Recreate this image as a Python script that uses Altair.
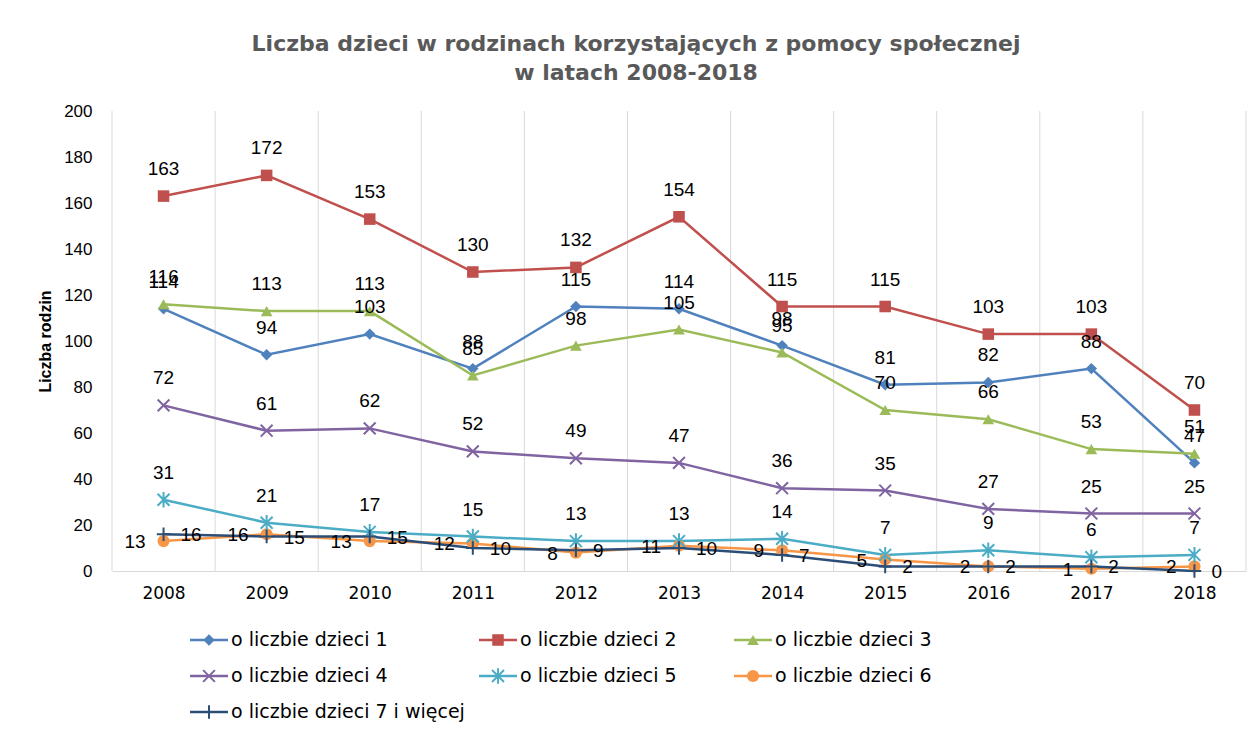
import altair as alt
import pandas as pd

# ---------------- data ----------------
years = [2008, 2009, 2010, 2011, 2012, 2013, 2014, 2015, 2016, 2017, 2018]
series_names = [
    "o liczbie dzieci 1",
    "o liczbie dzieci 2",
    "o liczbie dzieci 3",
    "o liczbie dzieci 4",
    "o liczbie dzieci 5",
    "o liczbie dzieci 6",
    "o liczbie dzieci 7 i więcej",
]
s1 = [114, 94, 103, 88, 115, 114, 98, 81, 82, 88, 47]
s2 = [163, 172, 153, 130, 132, 154, 115, 115, 103, 103, 70]
s3 = [116, 113, 113, 85, 98, 105, 95, 70, 66, 53, 51]
s4 = [72, 61, 62, 52, 49, 47, 36, 35, 27, 25, 25]
s5 = [31, 21, 17, 15, 13, 13, 14, 7, 9, 6, 7]
s6 = [13, 16, 13, 12, 8, 11, 9, 5, 2, 1, 2]
s7 = [16, 15, 15, 10, 9, 10, 7, 2, 2, 2, 0]
all_series = [s1, s2, s3, s4, s5, s6, s7]
label_side = ["above", "above", "above", "above", "above", "left", "right"]
legend_col = [0, 1, 2, 0, 1, 2, 0]
legend_row = [0, 0, 0, 1, 1, 1, 2]
y_ticks = [0, 20, 40, 60, 80, 100, 120, 140, 160, 180, 200]

# ---------------- styles ----------------
colors = ["#4F81BD", "#C0504D", "#9BBB59", "#8064A2", "#4BACC6", "#F79646", "#2C4D75"]
X_PATH = "M-1,-1L1,1M-1,1L1,-1"
STAR_PATH = "M-1,-1L1,1M-1,1L1,-1M0,-1.3L0,1.3"
PLUS_PATH = "M-1.1,0L1.1,0M0,-1.1L0,1.1"
shapes = ["diamond", "square", "triangle-up", X_PATH, STAR_PATH, "circle", PLUS_PATH]
sizes = [130, 150, 150, 110, 110, 160, 130]
filled_series = [series_names[i] for i in (0, 1, 2, 5)]
stroked_series = [series_names[i] for i in (3, 4, 6)]

LABEL_FONT = "Liberation Sans Narrow, Liberation Sans"
W, H = 1134, 460

rows = []
for name, vals, side in zip(series_names, all_series, label_side):
    for yr, v in zip(years, vals):
        rows.append({"year": yr, "value": v, "series": name, "side": side})
df = pd.DataFrame(rows)

grid_df = pd.DataFrame({"b": [years[0] - 0.5] + [y + 0.5 for y in years]})

color_scale = alt.Scale(domain=series_names, range=colors)
shape_scale = alt.Scale(domain=series_names, range=shapes)
size_scale = alt.Scale(domain=series_names, range=sizes)

x_scale = alt.Scale(domain=[years[0] - 0.5, years[-1] + 0.5], nice=False, zero=False)
y_scale = alt.Scale(domain=[0, 200], nice=False)

x_enc = alt.X(
    "year:Q",
    scale=x_scale,
    axis=alt.Axis(
        values=years, format="d", title=None, grid=False, ticks=False,
        domain=True, domainColor="#d9d9d9", domainWidth=1,
        labelFont="DejaVu Sans", labelFontSize=17, labelColor="#000000",
        labelPadding=14,
    ),
)
y_enc = alt.Y(
    "value:Q",
    scale=y_scale,
    axis=alt.Axis(
        values=y_ticks, title="Liczba rodzin", grid=False, ticks=False, domain=False,
        labelFont="Liberation Sans", labelFontSize=17, labelColor="#000000",
        labelPadding=20, titleFont="Liberation Sans", titleFontSize=16,
        titleFontWeight="bold", titleColor="#000000", titlePadding=10,
    ),
)

grid = alt.Chart(grid_df).mark_rule(color="#d9d9d9", strokeWidth=1).encode(
    x=alt.X("b:Q", scale=x_scale)
)

base = alt.Chart(df).encode(
    x=x_enc,
    y=y_enc,
    color=alt.Color("series:N", scale=color_scale, legend=None),
)

lines = base.mark_line(strokeWidth=2.5)
pts_filled = base.transform_filter(
    alt.FieldOneOfPredicate(field="series", oneOf=filled_series)
).mark_point(filled=True, opacity=1).encode(
    shape=alt.Shape("series:N", scale=shape_scale, legend=None),
    size=alt.Size("series:N", scale=size_scale, legend=None),
)
pts_stroked = base.transform_filter(
    alt.FieldOneOfPredicate(field="series", oneOf=stroked_series)
).mark_point(filled=False, opacity=1, strokeWidth=2).encode(
    shape=alt.Shape("series:N", scale=shape_scale, legend=None),
    size=alt.Size("series:N", scale=size_scale, legend=None),
)

tbase = alt.Chart(df).encode(x=alt.X("year:Q", scale=x_scale), y=alt.Y("value:Q", scale=y_scale), text="value:Q")
lab_above = tbase.transform_filter(alt.datum.side == "above").mark_text(
    font=LABEL_FONT, fontSize=19, color="#000000", baseline="middle", align="center", dy=-27
)
lab_left = tbase.transform_filter(alt.datum.side == "left").mark_text(
    font=LABEL_FONT, fontSize=19, color="#000000", baseline="middle", align="right", dx=-18, dy=1
)
lab_right = tbase.transform_filter(alt.datum.side == "right").mark_text(
    font=LABEL_FONT, fontSize=19, color="#000000", baseline="middle", align="left", dx=17, dy=1
)

main = alt.layer(grid, lines, pts_filled, pts_stroked, lab_above, lab_left, lab_right).properties(
    width=W, height=H
)

# ---------------- legend (built from series list) ----------------
leg_df = pd.DataFrame({"series": series_names, "col": legend_col, "row": legend_row})
lx = alt.X("col:Q", scale=alt.Scale(domain=[0, 1, 2], range=[97, 386, 641]), axis=None)
ly = alt.Y("row:Q", scale=alt.Scale(domain=[-0.25, 2.25], reverse=True), axis=None)
lcol = alt.Color("series:N", scale=color_scale, legend=None)
lbase = alt.Chart(leg_df).encode(x=lx, y=ly)
leg_lines = lbase.mark_rule(strokeWidth=2.5, xOffset=-19, x2Offset=19).encode(x2="col", color=lcol)
leg_filled = lbase.transform_filter(
    alt.FieldOneOfPredicate(field="series", oneOf=filled_series)
).mark_point(filled=True, opacity=1).encode(
    color=lcol,
    shape=alt.Shape("series:N", scale=shape_scale, legend=None),
    size=alt.Size("series:N", scale=size_scale, legend=None),
)
leg_stroked = lbase.transform_filter(
    alt.FieldOneOfPredicate(field="series", oneOf=stroked_series)
).mark_point(filled=False, opacity=1, strokeWidth=2).encode(
    color=lcol,
    shape=alt.Shape("series:N", scale=shape_scale, legend=None),
    size=alt.Size("series:N", scale=size_scale, legend=None),
)
leg_text = lbase.mark_text(
    align="left", baseline="middle", dx=22, font="DejaVu Sans", fontSize=19, color="#000000"
).encode(text="series:N")
legend = alt.layer(leg_lines, leg_filled, leg_stroked, leg_text).properties(width=W, height=90)

chart = alt.vconcat(main, legend, spacing=60).properties(
    bounds="flush",
    background="#ffffff",
    padding={"left": 29, "top": 25, "right": 2, "bottom": 0},
    title=alt.TitleParams(
        text=["Liczba dzieci w rodzinach korzystających z pomocy społecznej", "w latach 2008-2018"],
        font="DejaVu Sans", fontSize=22, fontWeight="bold", color="#595959",
        lineHeight=29, anchor="middle", offset=17, dx=-6,
    ),
).configure_view(strokeWidth=0, stroke=None)

chart.save("out.html", embed_options={"renderer": "svg", "actions": False})
